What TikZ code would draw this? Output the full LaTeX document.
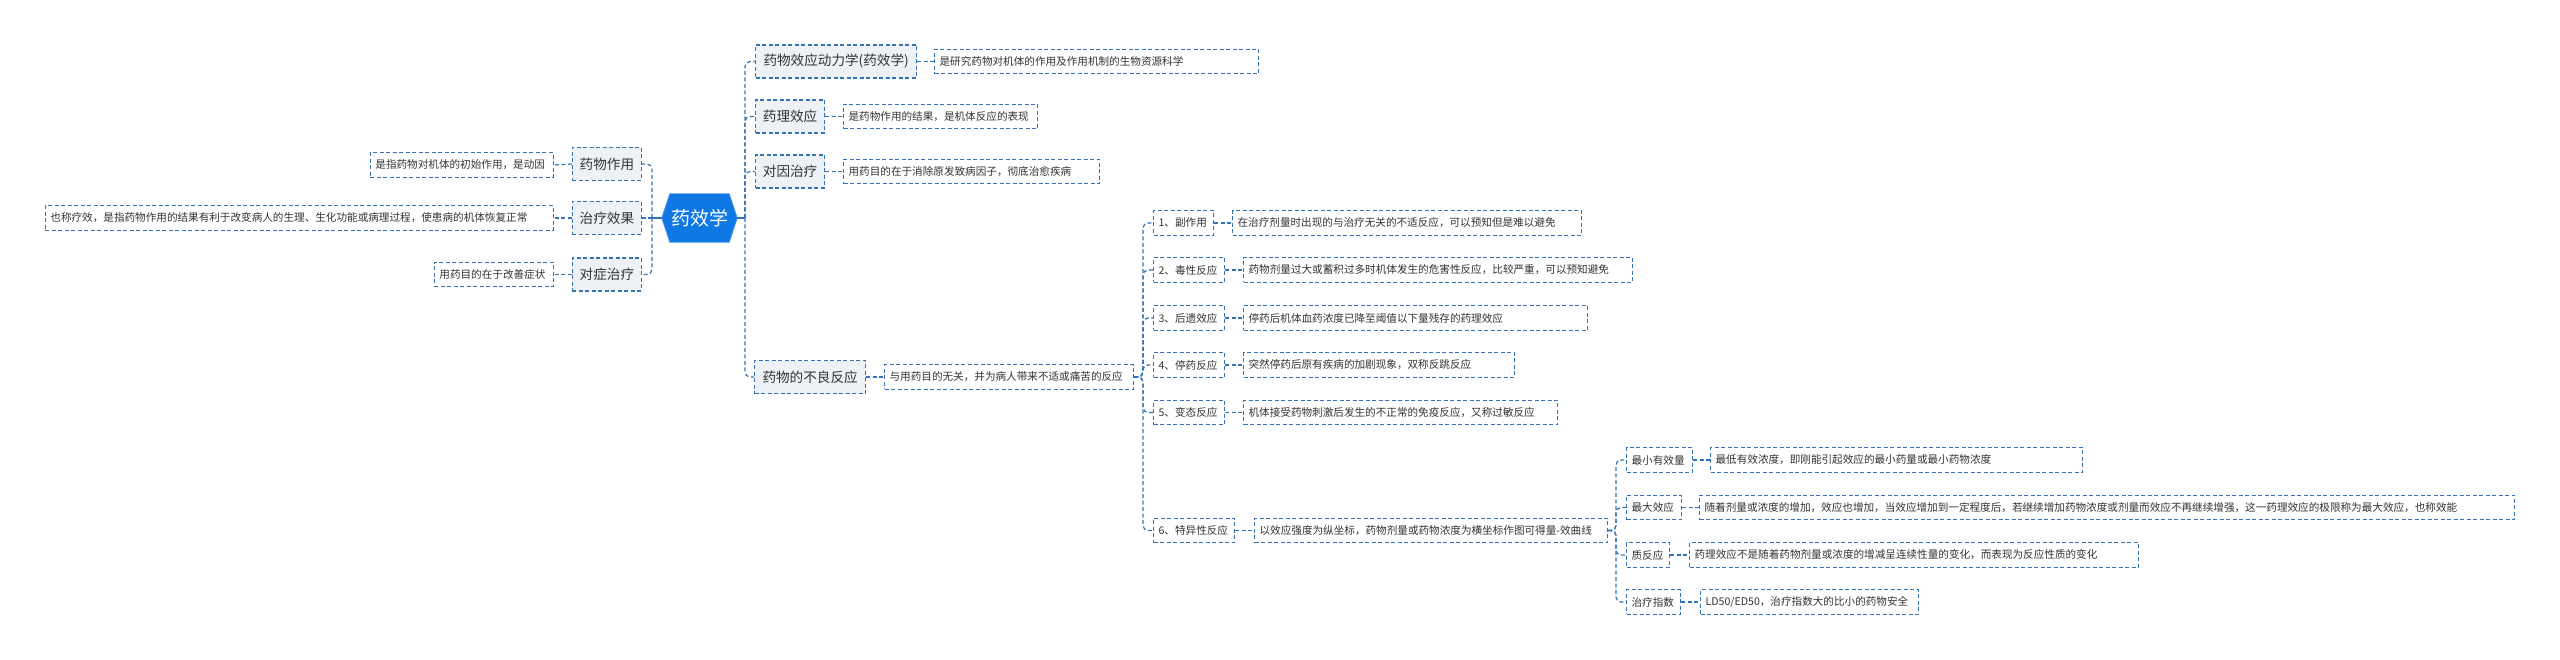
\documentclass[tikz,border=0pt]{standalone}
\usepackage{fontspec}
\newfontfamily\cjk{Noto Sans CJK SC}
\usetikzlibrary{calc,backgrounds}
\definecolor{lineblue}{HTML}{3474B6}
\definecolor{lvfill}{HTML}{EEF1F5}
\definecolor{hexblue}{HTML}{0F78E4}
\definecolor{hexedge}{HTML}{3A93EE}
\definecolor{txt}{HTML}{333333}
\newcommand\myfs[1]{\fontsize{#1pt}{#1pt}\selectfont}
\begin{document}
\begin{tikzpicture}[x=1pt,y=-1pt,
  dsh/.style={draw=lineblue, line width=1.2pt, dash pattern=on 4pt off 2.5pt},
  solidln/.style={draw=lineblue, line width=1.3pt},
  lvone/.style={dsh, fill=lvfill, text=txt, font=\cjk\myfs{13.6}, minimum height=33pt, inner xsep=0pt, inner ysep=0pt},
  leaf/.style={dsh, fill=white, text=txt, font=\cjk\myfs{10.6}, minimum height=24.5pt, inner xsep=5pt, inner ysep=0pt, align=left},
  conn/.style={dsh, rounded corners=5pt},
]
\useasboundingbox (0,0) rectangle (2560,660);

% central
\node[font=\cjk\myfs{19}, text=white, minimum width=75pt, minimum height=48pt, inner sep=0pt] (hex) at (699.5,218) {药效学};
\begin{scope}[on background layer]
\filldraw[fill=hexblue, draw=hexedge, line width=0.8pt] (hex.west) -- ($(hex.north west)+(8,0)$) -- ($(hex.north east)+(-8,0)$) -- (hex.east) -- ($(hex.south east)+(-8,0)$) -- ($(hex.south west)+(8,0)$) -- cycle;
\end{scope}

\coordinate (tL) at (652,0);
\coordinate (tR) at (745,0);
\coordinate (tA) at (1143,0);
\coordinate (tB) at (1616,0);
\coordinate (hl) at (hex.west -| tL);
\coordinate (hr) at (hex.east -| tR);

% left side
\node[lvone, minimum width=69pt, anchor=east] (l1) at (642,164) {药物作用};
\node[lvone, minimum width=69pt, anchor=east] (l2) at (642,218) {治疗效果};
\node[lvone, minimum width=69pt, anchor=east] (l3) at (642,274.5) {对症治疗};
\node[leaf, text width=173pt, anchor=east] (dl1) at (554,165) {是指药物对机体的初始作用，是动因};
\node[leaf, text width=498pt, anchor=east] (dl2) at (554,218) {也称疗效，是指药物作用的结果有利于改变病人的生理、生化功能或病理过程，使患病的机体恢复正常};
\node[leaf, text width=109pt, anchor=east] (dl3) at (554,274.5) {用药目的在于改善症状};

% right side level 1
\node[lvone, minimum width=161pt, anchor=west] (r1) at (755,61.5) {药物效应动力学(药效学)};
\node[lvone, minimum width=69pt, anchor=west] (r2) at (755,116.5) {药理效应};
\node[lvone, minimum width=69pt, anchor=west] (r3) at (755,171.5) {对因治疗};
\node[lvone, minimum width=111pt, anchor=west] (r4) at (754,377) {药物的不良反应};
\node[leaf, text width=314pt, anchor=west] (dr1) at (934,61.5) {是研究药物对机体的作用及作用机制的生物资源科学};
\node[leaf, text width=184pt, anchor=west] (dr2) at (843,116.5) {是药物作用的结果，是机体反应的表现};
\node[leaf, text width=246pt, anchor=west] (dr3) at (843,171.5) {用药目的在于消除原发致病因子，彻底治愈疾病};
\node[leaf, text width=239pt, anchor=west] (dr4) at (884,377) {与用药目的无关，并为病人带来不适或痛苦的反应};

% level 2
\node[leaf, text width=50pt, anchor=west] (a1) at (1153,223) {1、副作用};
\node[leaf, text width=61pt, anchor=west] (a2) at (1153,270) {2、毒性反应};
\node[leaf, text width=61pt, anchor=west] (a3) at (1153,318) {3、后遗效应};
\node[leaf, text width=61pt, anchor=west] (a4) at (1153,365) {4、停药反应};
\node[leaf, text width=61pt, anchor=west] (a5) at (1153,412.5) {5、变态反应};
\node[leaf, text width=71pt, anchor=west] (a6) at (1153,530.5) {6、特异性反应};
\node[leaf, text width=339pt, anchor=west] (da1) at (1232,223) {在治疗剂量时出现的与治疗无关的不适反应，可以预知但是难以避免};
\node[leaf, text width=379pt, anchor=west] (da2) at (1243,270) {药物剂量过大或蓄积过多时机体发生的危害性反应，比较严重，可以预知避免};
\node[leaf, text width=334pt, anchor=west] (da3) at (1243,318) {停药后机体血药浓度已降至阈值以下量残存的药理效应};
\node[leaf, text width=261pt, anchor=west] (da4) at (1243,365) {突然停药后原有疾病的加剧现象，双称反跳反应};
\node[leaf, text width=304pt, anchor=west] (da5) at (1243,412.5) {机体接受药物刺激后发生的不正常的免疫反应，又称过敏反应};
\node[leaf, text width=343pt, anchor=west] (da6) at (1254,530.5) {以效应强度为纵坐标，药物剂量或药物浓度为横坐标作图可得量-效曲线};

% level 3
\node[leaf, text width=56pt, anchor=west] (b1) at (1626,460) {最小有效量};
\node[leaf, text width=45pt, anchor=west] (b2) at (1626,507.5) {最大效应};
\node[leaf, text width=33pt, anchor=west] (b3) at (1626,555) {质反应};
\node[leaf, text width=44pt, anchor=west] (b4) at (1626,602) {治疗指数};
\node[leaf, text width=362pt, anchor=west] (db1) at (1710,460) {最低有效浓度，即刚能引起效应的最小药量或最小药物浓度};
\node[leaf, text width=805pt, anchor=west] (db2) at (1699,507.5) {随着剂量或浓度的增加，效应也增加，当效应增加到一定程度后，若继续增加药物浓度或剂量而效应不再继续增强，这一药理效应的极限称为最大效应，也称效能};
\node[leaf, text width=439pt, anchor=west] (db3) at (1689,555) {药理效应不是随着药物剂量或浓度的增减呈连续性量的变化，而表现为反应性质的变化};
\node[leaf, text width=208pt, anchor=west] (db4) at (1700,602) {LD50/ED50，治疗指数大的比小的药物安全};

% connectors: trunks
\draw[solidln] (hex.west) -- (hl);
\draw[solidln] (hex.east) -- (hr);
\foreach \c in {l1,l3} \draw[conn] (hl) |- (\c.east);
\draw[dsh] (hl) -- (l2.east);
\foreach \c in {r1,r2,r3,r4} \draw[conn] (hr) |- (\c.west);
\foreach \c in {a1,a2,a3,a4,a5,a6} \draw[conn] (dr4.east) -- (dr4.east -| tA) |- (\c.west);
\foreach \c in {b1,b2,b3,b4} \draw[conn] (da6.east) -- (da6.east -| tB) |- (\c.west);

% connectors: node to description
\foreach \p/\d in {l1/dl1,l2/dl2,l3/dl3} \draw[dsh] (\p.west) -- (\d.east);
\foreach \p/\d in {r1/dr1,r2/dr2,r3/dr3,r4/dr4,a1/da1,a2/da2,a3/da3,a4/da4,a5/da5,a6/da6,b1/db1,b2/db2,b3/db3,b4/db4} \draw[dsh] (\p.east) -- (\d.west);
\end{tikzpicture}
\end{document}
